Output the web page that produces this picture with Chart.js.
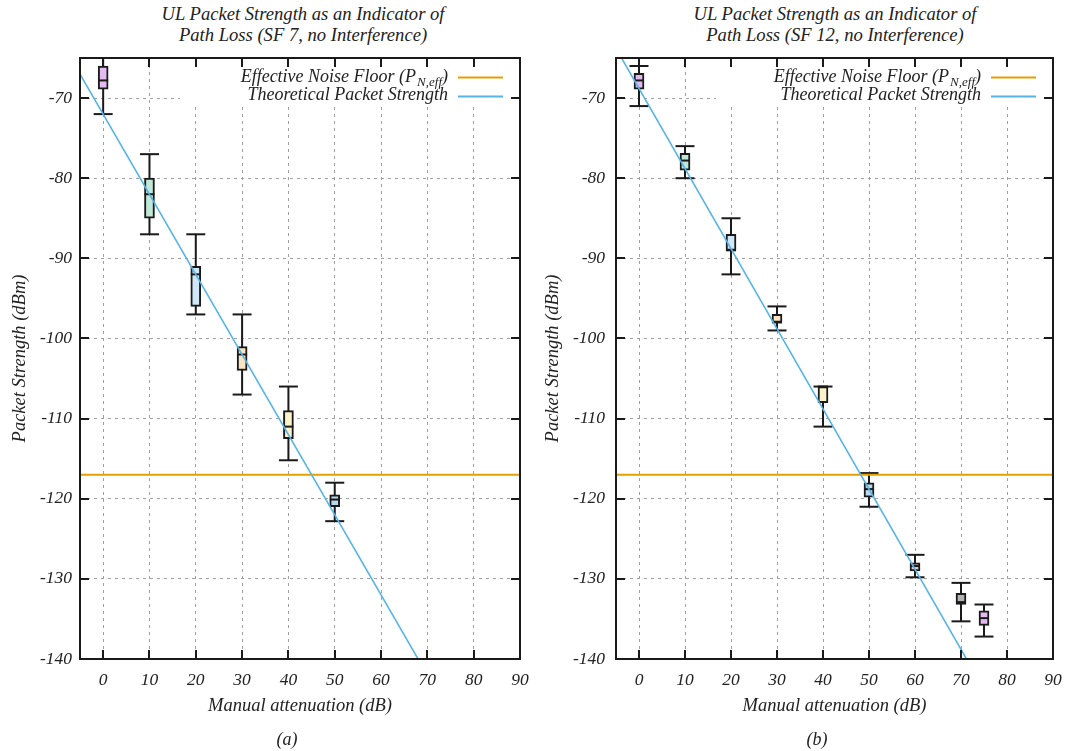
<!DOCTYPE html>
<html>
<head>
<meta charset="utf-8">
<script src="https://cdn.jsdelivr.net/npm/chart.js@4.4.1/dist/chart.umd.min.js"></script>
<style>
  body { margin: 0; background: #fff; width: 1072px; height: 751px; position: relative; overflow: hidden;
         font-family: "Liberation Serif", serif; font-style: italic; color: #222; }
  canvas { position: absolute; top: 0; }
  .title { position: absolute; top: 3px; width: 536px; text-align: center; font-size: 18.6px; line-height: 21px; }
  .caption { position: absolute; top: 729px; width: 60px; text-align: center; font-size: 18px; line-height: 20px; }
</style>
</head>
<body>
<div class="title" style="left:35px">UL Packet Strength as an Indicator of<br>Path Loss (SF 7, no Interference)</div>
<div class="title" style="left:567px">UL Packet Strength as an Indicator of<br>Path Loss (SF 12, no Interference)</div>
<canvas id="sf7" width="536" height="751" style="left:0"></canvas>
<canvas id="sf12" width="536" height="751" style="left:536px"></canvas>
<div class="caption" style="left:257px">(a)</div>
<div class="caption" style="left:787px">(b)</div>
<script>
// attenuation steps and packet strength box statistics (dBm)
const SF7_X = [0, 10, 20, 30, 40, 50];
const SF7_MIN = [-72, -87, -97, -107, -115.2, -122.8];
const SF7_Q1 = [-68.9, -85, -96, -104, -112.5, -121];
const SF7_MEDIAN = [-67.8, -82, -92, -102, -111, -120.1];
const SF7_Q3 = [-66, -80, -91, -101, -109, -119.5];
const SF7_MAX = [-64, -77, -87, -97, -106, -118];

const SF12_X = [0, 10, 20, 30, 40, 50, 60, 70, 75];
const SF12_MIN = [-71, -80, -92, -99, -111, -121, -129.8, -135.3, -137.2];
const SF12_Q1 = [-68.9, -79, -89, -98, -108, -119.8, -129, -133.2, -135.8];
const SF12_MEDIAN = [-67.8, -77.8, -89, -98, -106, -118.8, -128.4, -132.9, -134.9];
const SF12_Q3 = [-66.9, -76.9, -87, -97, -106, -118, -128, -131.8, -134];
const SF12_MAX = [-66, -76, -85, -96, -106, -116.8, -127, -130.5, -133.2];

// theoretical packet strength at both ends of the attenuation axis
const LINE_X = [-5, 90];
const SF7_THEORY = [-67, -162];
const SF12_THEORY = [-63.8, -158.8];
const NOISE_FLOOR = -117;

const X_TICKS = [0, 10, 20, 30, 40, 50, 60, 70, 80, 90];
const Y_TICKS = [-140, -130, -120, -110, -100, -90, -80, -70];

const PURPLE = "#e3bbf1", MINT = "#c0e8d8", SKY = "#cfe7f7", PEACH = "#fbe4c2",
      CREAM = "#fbf3ca", STEEL = "#bad9ea", ROSE = "#f5c7c3", GREY = "#b3b3b3";
const SF7_COLORS = [PURPLE, MINT, SKY, PEACH, CREAM, STEEL];
const SF12_COLORS = [PURPLE, MINT, SKY, PEACH, CREAM, STEEL, ROSE, GREY, PURPLE];

const INK = "#1a1a1a";
const ORANGE = "#e69f00";
const BLUE = "#56b4e9";
const SERIF = "'Liberation Serif', serif";
const TICK_FONT = { family: SERIF, style: "italic", size: 17.5 };
const TITLE_FONT = { family: SERIF, style: "italic", size: 18.5 };

// white legend box in the upper right corner, drawn over the grid
const cornerLegend = {
  id: "cornerLegend",
  beforeDatasetsDraw(chart) {
    const { ctx, chartArea: a } = chart;
    const big = `italic 18px ${SERIF}`;
    const small = `italic 13px ${SERIF}`;
    ctx.save();
    ctx.fillStyle = "#fff";
    ctx.fillRect(a.left + 100, a.top, a.right - a.left - 100, 47);
    ctx.fillStyle = "#222";
    ctx.textBaseline = "alphabetic";
    const textRight = a.right - 72;

    // first row: text with a subscript
    const main = "Effective Noise Floor (P";
    const sub = "N,eff";
    ctx.font = small;
    const subW = ctx.measureText(sub).width;
    ctx.font = big;
    const closeW = ctx.measureText(")").width;
    const mainW = ctx.measureText(main).width;
    const x = textRight - closeW - subW - mainW - 1;
    ctx.textAlign = "left";
    ctx.fillText(main, x, a.top + 24);
    ctx.font = small;
    ctx.fillText(sub, x + mainW + 1, a.top + 28);
    ctx.font = big;
    ctx.fillText(")", x + mainW + subW + 1, a.top + 24);

    ctx.textAlign = "right";
    ctx.fillText("Theoretical Packet Strength", textRight, a.top + 42);

    ctx.lineWidth = 2;
    ctx.strokeStyle = ORANGE;
    ctx.beginPath();
    ctx.moveTo(a.right - 62, a.top + 19.5);
    ctx.lineTo(a.right - 17, a.top + 19.5);
    ctx.stroke();
    ctx.strokeStyle = BLUE;
    ctx.beginPath();
    ctx.moveTo(a.right - 62, a.top + 38.5);
    ctx.lineTo(a.right - 17, a.top + 38.5);
    ctx.stroke();
    ctx.restore();
  }
};

// solid frame with inward ticks on all four sides
const frameTicks = {
  id: "frameTicks",
  afterDatasetsDraw(chart) {
    const { ctx, chartArea: a, scales } = chart;
    const len = 9;
    ctx.save();
    ctx.strokeStyle = INK;
    ctx.lineWidth = 2;
    ctx.beginPath();
    X_TICKS.slice(0, -1).forEach(v => {
      const px = Math.round(scales.x.getPixelForValue(v));
      ctx.moveTo(px, a.bottom); ctx.lineTo(px, a.bottom - len);
      ctx.moveTo(px, a.top); ctx.lineTo(px, a.top + len);
    });
    Y_TICKS.slice(1).forEach(v => {
      const py = Math.round(scales.y.getPixelForValue(v));
      ctx.moveTo(a.left, py); ctx.lineTo(a.left + len, py);
      ctx.moveTo(a.right, py); ctx.lineTo(a.right - len, py);
    });
    ctx.stroke();
    ctx.strokeRect(a.left, a.top, a.right - a.left, a.bottom - a.top);
    ctx.restore();
  }
};

function makePanel(id, xs, mins, q1s, medians, q3s, maxs, colors, theory, rightPad, yLabelPad, yTitlePad) {
  const stems = xs.flatMap((x, i) => [{ x, y: mins[i] }, { x, y: maxs[i] }, { x, y: null }]);
  const caps = xs.flatMap((x, i) => [{ x, y: mins[i] }, { x, y: maxs[i] }]);

  return new Chart(document.getElementById(id), {
    type: "bar",
    data: {
      datasets: [
        {
          type: "line",
          data: LINE_X.map((x, i) => ({ x, y: theory[i] })),
          borderColor: BLUE,
          borderWidth: 1.6,
          pointRadius: 0,
          clip: 0,
          order: 0
        },
        {
          type: "line",
          data: LINE_X.map(x => ({ x, y: NOISE_FLOOR })),
          borderColor: ORANGE,
          borderWidth: 2,
          pointRadius: 0,
          clip: 0,
          order: 1
        },
        {
          type: "scatter",
          data: caps,
          pointStyle: "line",
          pointRadius: 9.5,
          pointBorderWidth: 2,
          borderColor: INK,
          clip: 0,
          order: 2
        },
        {
          type: "scatter",
          data: xs.map((x, i) => ({ x, y: medians[i] })),
          pointStyle: "line",
          pointRadius: 5,
          pointBorderWidth: 2,
          borderColor: INK,
          clip: 0,
          order: 3
        },
        {
          type: "bar",
          data: xs.map((x, i) => ({ x, y: [q1s[i], q3s[i]] })),
          backgroundColor: colors,
          borderColor: INK,
          borderWidth: 2,
          borderSkipped: false,
          barThickness: 10,
          clip: 0,
          order: 4
        },
        {
          type: "line",
          data: stems,
          borderColor: INK,
          borderWidth: 2,
          pointRadius: 0,
          spanGaps: false,
          clip: 0,
          order: 5
        }
      ]
    },
    options: {
      responsive: false,
      animation: false,
      events: [],
      layout: { padding: { top: 58, right: rightPad, bottom: 32, left: 0 } },
      plugins: { legend: { display: false }, tooltip: { enabled: false } },
      scales: {
        x: {
          type: "linear",
          min: -5,
          max: 90,
          offset: false,
          afterBuildTicks: scale => { scale.ticks = X_TICKS.map(value => ({ value })); },
          afterFit: scale => {
            scale.height = 60;
            scale.paddingLeft = 0;
            scale.paddingRight = 0;
          },
          grid: { offset: false, color: "#a0a0a0", lineWidth: 1, drawTicks: false },
          border: { display: false, dash: [3, 4] },
          ticks: { autoSkip: false, maxRotation: 0, padding: 11, color: "#222", font: TICK_FONT },
          title: { display: true, text: "Manual attenuation (dB)", color: "#222", font: TITLE_FONT, padding: { top: 0, bottom: 2 } }
        },
        y: {
          min: -140,
          max: -65,
          afterBuildTicks: scale => { scale.ticks = Y_TICKS.map(value => ({ value })); },
          afterFit: scale => { scale.width = 80; },
          grid: { color: "#a0a0a0", lineWidth: 1, drawTicks: false },
          border: { display: false, dash: [3, 4] },
          ticks: { autoSkip: false, padding: yLabelPad, color: "#222", font: TICK_FONT },
          title: { display: true, text: "Packet Strength (dBm)", color: "#222", font: TITLE_FONT, padding: { top: yTitlePad, bottom: 0 } }
        }
      }
    },
    plugins: [cornerLegend, frameTicks]
  });
}

makePanel("sf7", SF7_X, SF7_MIN, SF7_Q1, SF7_MEDIAN, SF7_Q3, SF7_MAX, SF7_COLORS, SF7_THEORY, 16, 8, 9);
makePanel("sf12", SF12_X, SF12_MIN, SF12_Q1, SF12_MEDIAN, SF12_Q3, SF12_MAX, SF12_COLORS, SF12_THEORY, 19, 11, 6);
</script>
</body>
</html>
